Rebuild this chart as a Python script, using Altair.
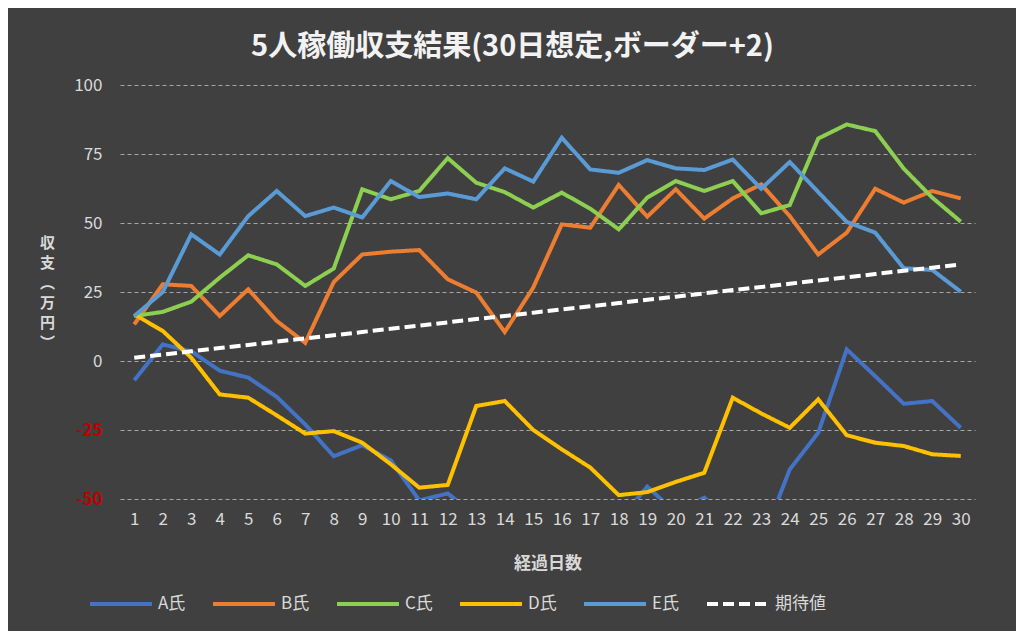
import altair as alt
import pandas as pd

days = list(range(1, 31))
series_names = ["A氏", "B氏", "C氏", "D氏", "E氏", "期待値"]
series_colors = ["#4472C4", "#ED7D31", "#8DCF50", "#FFC000", "#5B9BD5", "#FFFFFF"]

a_vals = [-7, 6, 3.5, -3.5, -6, -13, -23, -34.5, -30.5, -36, -50.5, -48, -56, -60, -63,
          -62, -60, -58, -45.5, -55, -49.5, -58, -66, -39.3, -26, 4.2, -5.5, -15.5, -14.5, -24.2]
b_vals = [13.3, 27.8, 27.2, 16.3, 26, 14.5, 6.6, 28.6, 38.6, 39.6, 40.2, 29.6, 24.8, 10.5, 26.6,
          49.5, 48.3, 63.8, 52.3, 62.2, 51.6, 58.9, 64, 52.5, 38.6, 46.5, 62.4, 57.4, 61.6, 58.9]
c_vals = [16.3, 17.8, 21.5, 30.2, 38.3, 35, 27.2, 33.5, 62.2, 58.6, 61.6, 73.5, 64.6, 61.2, 55.6,
          61, 55.2, 47.7, 59.2, 65.2, 61.6, 65.2, 53.5, 56.5, 80.6, 85.7, 83.3, 69.7, 59.2, 50.5]
d_vals = [16.9, 10.9, 1.2, -12.1, -13.3, -19.7, -26.3, -25.4, -29.6, -37.4, -45.9, -44.9, -16.3, -14.5, -25,
          -32, -38.6, -48.6, -47.5, -43.8, -40.5, -13.3, -19, -24.2, -13.9, -26.9, -29.6, -30.8, -33.8, -34.4]
e_vals = [16.3, 25, 45.9, 38.6, 52.5, 61.6, 52.5, 55.6, 52, 65.2, 59.4, 60.7, 58.6, 69.8, 65,
          80.9, 69.4, 68.2, 72.8, 69.8, 69.2, 73, 62.4, 72.1, 61.2, 50.4, 46.5, 33.6, 33, 25.1]
exp_vals = [1.2, 2.3, 3.5, 4.7, 5.8, 7.0, 8.2, 9.3, 10.5, 11.7, 12.8, 14.0, 15.2, 16.3, 17.5,
            18.7, 19.8, 21.0, 22.2, 23.3, 24.5, 25.7, 26.8, 28.0, 29.2, 30.3, 31.5, 32.7, 33.8, 35.0]

y_ticks = [-50, -25, 0, 25, 50, 75, 100]
y_title_chars = ["収", "支", "︵", "万", "円", "︶"]

all_vals = [a_vals, b_vals, c_vals, d_vals, e_vals, exp_vals]
rows = []
for si, (name, vals) in enumerate(zip(series_names, all_vals)):
    for d, v in zip(days, vals):
        rows.append({"day": d, "value": v, "series": name, "ord": si})
df = pd.DataFrame(rows)

FONT = "Noto Sans CJK JP"
TXT = "#d9d9d9"

legend = alt.Legend(
    orient="none", legendX=-32, legendY=486, direction="horizontal", title=None,
    symbolType="stroke", symbolSize=3844, symbolStrokeWidth=4,
    labelFontSize=17, labelColor=TXT, labelFont=FONT, labelOffset=4, columnPadding=19,
)

dashes = [[1, 0]] * 5 + [[11, 5]]

chart = alt.Chart(df).mark_line(clip=True, strokeWidth=4).encode(
    x=alt.X("day:O", scale=alt.Scale(type="point", padding=0.5),
            axis=alt.Axis(title="経過日数", labelAngle=0, labelFontSize=17, labelColor=TXT,
                          labelFont=FONT, ticks=False, domain=False, grid=False, labelPadding=12,
                          titleFont=FONT, titleFontSize=17, titleFontWeight="bold", titleColor=TXT,
                          titleY=64, titleBaseline="middle")),
    y=alt.Y("value:Q", scale=alt.Scale(domain=[-50, 100], nice=False),
            axis=alt.Axis(values=y_ticks, labelExpr="'' + datum.value", labelFontSize=17,
                          labelFont=FONT, labelPadding=18, ticks=False, domain=False,
                          labelColor={"condition": {"test": "datum.value < 0", "value": "#C00000"}, "value": TXT},
                          labelFontWeight={"condition": {"test": "datum.value < 0", "value": "bold"}, "value": "normal"},
                          gridColor="#a6a6a6", gridDash=[4, 3], gridWidth=1,
                          title=y_title_chars, titleAngle=0, titleX=-73, titleY=157,
                          titleAlign="center", titleBaseline="middle", titleLineHeight=20,
                          titleFont=FONT, titleFontSize=15, titleFontWeight="bold", titleColor=TXT)),
    color=alt.Color("series:N", scale=alt.Scale(domain=series_names, range=series_colors), legend=legend),
    strokeDash=alt.StrokeDash("series:N", scale=alt.Scale(domain=series_names, range=dashes), legend=legend),
    order=alt.Order("ord:Q"),
).properties(
    width=855, height=414,
    padding={"left": 112, "top": 77, "right": 41, "bottom": 132},
    autosize="none",
    background="#404040",
    title=alt.TitleParams("5人稼働収支結果(30日想定,ボーダー+2)", font=FONT, fontSize=29,
                          fontWeight="bold", color="#f2f2f2", dx=-35, offset=14, anchor="middle"),
).configure_view(stroke=None)

chart.save("out.html", embed_options={"renderer": "svg", "actions": False})
